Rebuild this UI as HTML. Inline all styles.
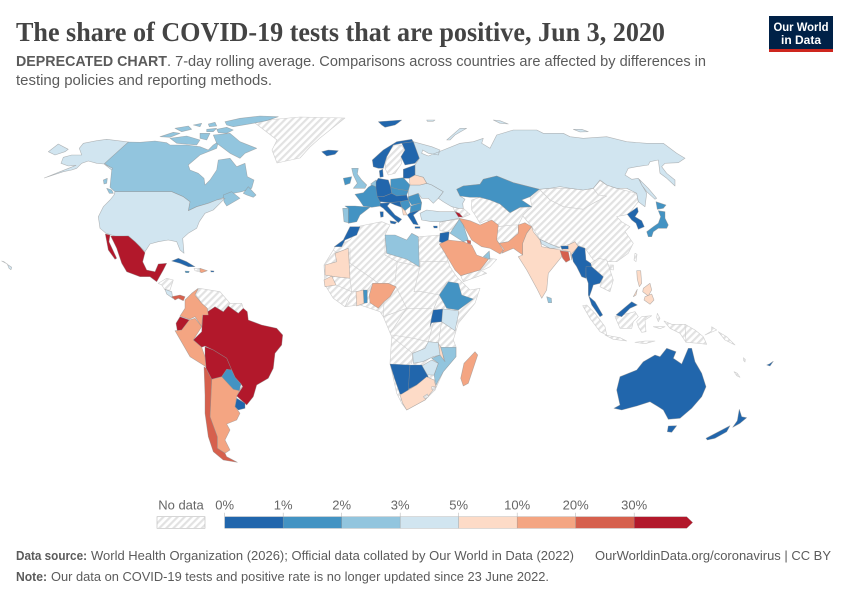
<!DOCTYPE html>
<html lang="en">
<head>
<meta charset="utf-8">
<title>The share of COVID-19 tests that are positive, Jun 3, 2020</title>
<style>
html,body{margin:0;padding:0;background:#fff;width:850px;height:600px;overflow:hidden}
svg{display:block}
text{font-family:"Liberation Sans",sans-serif}
.sub{font-size:14.5px;fill:#5b5b5b}
.foot{font-size:13px;fill:#5b5b5b}
.lg{font-size:13px;fill:#666}
</style>
</head>
<body>
<svg id="chart" xmlns="http://www.w3.org/2000/svg" width="850" height="600" viewBox="0 0 850 600">
  <defs>
    <pattern id="hatch" patternUnits="userSpaceOnUse" width="5" height="5" patternTransform="rotate(45)">
      <rect width="5" height="5" fill="#fff"/>
      <rect width="2.2" height="5" fill="#e2e2e2"/>
    </pattern>
  </defs>
  <text x="16" y="41" font-size="27" font-weight="700" fill="#444" textLength="649" lengthAdjust="spacingAndGlyphs" style="font-family:'Liberation Serif',serif">The share of COVID-19 tests that are positive, Jun 3, 2020</text>
  <text class="sub" x="16" y="66" font-weight="700" textLength="151" lengthAdjust="spacingAndGlyphs">DEPRECATED CHART</text>
  <text class="sub" x="167" y="66" textLength="539" lengthAdjust="spacingAndGlyphs">. 7-day rolling average. Comparisons across countries are affected by differences in</text>
  <text class="sub" x="16" y="85" textLength="256" lengthAdjust="spacingAndGlyphs">testing policies and reporting methods.</text>
  <g>
    <rect x="769" y="16" width="64" height="36" fill="#002147"/>
    <rect x="769" y="49" width="64" height="3" fill="#ce261e"/>
    <text x="801" y="31" font-size="12" font-weight="700" fill="#fff" text-anchor="middle" textLength="55" lengthAdjust="spacingAndGlyphs">Our World</text>
    <text x="801" y="44" font-size="12" font-weight="700" fill="#fff" text-anchor="middle">in Data</text>
  </g>
  <g id="map" stroke-linejoin="round"></g>
  <g id="legend"></g>
  <text class="foot" x="16" y="560" font-weight="700" textLength="71" lengthAdjust="spacingAndGlyphs">Data source:</text>
  <text class="foot" x="91" y="560" textLength="483" lengthAdjust="spacingAndGlyphs">World Health Organization (2026); Official data collated by Our World in Data (2022)</text>
  <text class="foot" x="595" y="560" textLength="236" lengthAdjust="spacingAndGlyphs">OurWorldinData.org/coronavirus | CC BY</text>
  <text class="foot" x="16" y="581" font-weight="700" textLength="31" lengthAdjust="spacingAndGlyphs">Note:</text>
  <text class="foot" x="51" y="581" textLength="498" lengthAdjust="spacingAndGlyphs">Our data on COVID-19 tests and positive rate is no longer updated since 23 June 2022.</text>
</svg>
<script>
// ---- Data: share of tests positive (%), null = no data ----
const countries = ["Africa (no data)","Greenland","Sweden","Mongolia","China","Central Asia","Afghanistan","Syria","Yemen","Oman","Southeast Asia mainland","Indonesia","Papua New Guinea","Haiti","Central America","Venezuela","Guianas","Taiwan","Georgia and Azerbaijan","Pacific islands",
"Russia","Canada","United States","Mexico","Cuba","Jamaica","Dominican Republic","Puerto Rico","Costa Rica","Panama",
"Brazil","Bolivia","Paraguay","Uruguay","Ecuador","Colombia","Peru","Argentina","Chile",
"Iceland","Svalbard","Norway","Finland","Baltics","Ireland","United Kingdom","Benelux","France","Germany","Denmark","Poland","Czechia and Slovakia","Austria and Hungary","Italy","Spain","Portugal","Romania","Bulgaria","Serbia","Croatia","Albania","Greece","Ukraine","Belarus",
"Kazakhstan","Turkey","Armenia","Cyprus","Iran","Iraq","Jordan","Kuwait","Saudi Arabia","UAE","Pakistan","India","Nepal","Bhutan","Bangladesh","Myanmar","Thailand and Malaysia","Korea","Japan","Philippines","Malaysia Borneo","Sri Lanka",
"Morocco","Libya","Mauritania","Senegal","Ghana","Togo","Nigeria","Ethiopia","Uganda","Kenya","Malawi","Zambia","Mozambique","Zimbabwe","Namibia","Botswana","South Africa","Madagascar",
"Australia","New Zealand","Fiji"];
const positiveRates = [null,null,null,null,null,null,null,null,null,null,null,null,null,null,null,null,null,null,null,null,
3.6,2.4,4.3,46,0.6,1.5,14,0.7,3.2,24,
38,33,1.6,0.5,34,15,16,13,25,
0.2,0.1,0.5,0.6,0.6,1.4,2.6,2.3,1.7,0.9,0.7,1.5,1.2,0.8,0.9,1.6,2.7,1.8,1.3,1.6,0.9,6,0.5,3.5,7,
1.5,3.8,38,0.4,13,2.8,0.4,24,16,2.5,15,7.5,4,0.6,23,0.3,0.4,0.5,1.8,6.5,0.7,2.6,
0.8,2.5,6.5,7,6.5,1.2,14,1.6,0.5,4,6,3.5,2.6,4,0.6,0.8,8,13,
0.4,0.1,0.6];
const binEdges = [0,1,2,3,5,10,20,30];
const binColors = ["#2166ac","#4393c3","#92c5de","#d1e5f0","#fddbc7","#f4a582","#d6604d","#b2182b"];
const binLabels = ["0%","1%","2%","3%","5%","10%","20%","30%"];

// ---- Map geography: outlines traced in crop-local coordinates ----
const frames = {A:[0,100,3],B:[300,100,3],C:[550,120,3],D:[130,270,3],E:[310,240,3],G:[600,320,3],I:[570,285,3],P:[0,0,1]};
const outlines = {
"Africa (no data)":[["E","150,-42 215,-55 240,-45 225,-15 265,-10 300,5 330,-10 390,-15 400,20 420,80 440,110 480,150 510,145 495,190 445,250 430,300 438,320 438,350 400,395 375,450 345,480 290,510 275,490 260,460 240,370 245,290 220,230 210,215 150,195 105,200 70,175 45,135 42,75 70,30 75,20 120,0"]],
"Greenland":[["P","255,123 267,120 300,117 345,118 330,130 320,138 310,147 300,158 277,163 272,150 277,140"]],
"Sweden":[["B","255,205 260,170 280,135 303,135 315,150 303,170 305,190 285,220 265,225"]],
"Mongolia":[["C","-33,207 0,205 60,205 100,210 130,205 145,225 170,228 130,250 100,268 40,260 0,240"]],
"China":[["C","-84,285 -54,261 -60,231 -33,207 0,240 40,260 100,268 130,250 170,228 145,225 130,205 150,182 170,195 200,205 260,220 265,245 235,283 200,290 215,305 240,320 225,335 250,370 235,400 200,425 165,425 130,420 105,385 90,378 70,368 50,375 30,382 0,372 -30,358 -54,321"],["C","180,435 190,435 190,450 180,448"]],
"Central Asia":[["B","515,300 540,292 570,300 600,312 630,338 660,322 695,320 670,345 655,375 590,380 560,360 540,370 525,345 515,330"]],
"Afghanistan":[["B","590,380 640,375 655,375 655,400 625,425 598,430 590,420"]],
"Syria":[["B","418,368 440,362 478,358 460,385 440,395 420,392"]],
"Yemen":[["B","482,527 540,510 560,520 490,545"]],
"Oman":[["B","568,475 590,478 570,500 550,510 540,510 565,478"]],
"Southeast Asia mainland":[["C","122,430 145,415 170,420 190,480 180,515 150,500 160,470 125,440"]],
"Indonesia":[["I","38,62 50,60 75,85 105,125 110,150 90,140 60,100"],["I","105,150 150,158 170,168 130,163"],["I","135,95 195,80 205,95 190,110 185,130 150,130"],["I","200,110 215,95 245,92 225,105 228,140 215,142 205,125"],["I","262,85 270,100 265,110 260,98"],["I","195,172 225,168 255,168 225,176"],["I","250,125 285,125 270,131"],["I","282,108 305,118 345,118 348,172 330,145 300,130"]],
"Papua New Guinea":[["I","345,118 375,135 400,155 410,178 385,175 348,172"],["I","425,125 440,135 405,150 425,138"]],
"Haiti":[["A","582,505 600,505 600,516 585,512"]],
"Central America":[["D","85,40 110,25 130,30 120,60 105,60 95,45"]],
"Venezuela":[["D","195,70 208,55 270,65 300,100 280,125 255,110 235,135 232,115 215,100"]],
"Guianas":[["D","300,100 335,100 340,115 325,130 295,108"]],
"Taiwan":[["C","255,400 261,403 258,425 252,420"]],
"Georgia and Azerbaijan":[["B","458,320 490,325 510,343 490,352 478,340 465,335"]],
"Pacific islands":[["I","445,140 470,155 495,180 465,165"],["G","430,113 436,118 435,126 431,122"],["G","402,155 412,160 420,172 410,167"]],
"Russia":[["B","340,125 395,140 420,150 415,165 385,160 368,150 365,160 385,168 430,150 480,130 520,125 550,115 545,130 570,145 590,105 640,90 710,90 730,100 750,100 790,100 810,110 850,115 920,110 980,125 1040,130 1090,130 1130,160 1155,175 1135,188 1095,190 1085,200 1100,220 1125,240 1125,258 1100,235 1080,220 1075,180 1050,185 1045,195 1010,200 985,205 975,225 995,238 1015,235 1040,280 1035,320 1015,305 1010,280 980,265 950,265 920,255 900,240 880,265 850,270 810,265 780,260 750,265 718,268 640,248 590,228 550,238 540,253 490,258 470,268 480,288 495,298 488,310 490,325 475,325 455,320 430,305 415,295 430,275 395,255 380,250 370,232 345,225 345,195 358,175"],["B","440,120 480,85 500,85 465,105 450,120"],["B","580,60 600,62 625,72 600,70"],["B","380,60 405,60 400,64 382,64"],["C","70,28 95,28 115,35 90,36"],["C","268,178 295,205 320,235 315,238 290,215 275,195"]],
"Canada":[["A","385,126 420,127 465,123 500,128 510,135 560,135 600,140 625,150 640,135 655,125 650,145 600,165 565,195 570,210 595,220 612,235 615,255 630,240 650,210 655,180 690,175 710,200 735,190 742,230 762,240 755,265 725,275 700,280 665,295 650,300 625,310 590,320 565,332 570,305 550,290 515,275 345,275 330,262 335,210 335,205 312,190"],["A","675,65 720,55 780,48 835,50 800,62 760,70 700,80 680,75"],["A","640,105 690,100 720,125 770,145 735,160 720,175 690,160 650,130"],["A","510,115 560,108 600,120 590,135 530,130"],["A","480,110 520,97 540,100 510,112"],["A","525,85 565,78 575,88 545,95"],["A","580,75 605,70 600,80"],["A","625,72 645,67 650,78 628,80"],["A","650,88 680,82 700,90 680,100 655,98"],["A","620,88 650,85 640,95 620,95"],["A","600,100 630,100 620,120 600,115"],["A","730,280 745,260 768,285 760,292 740,285"],["A","670,285 695,275 720,295 680,318 672,305"],["A","310,240 322,235 320,250 312,252"],["A","320,265 335,270 340,280 328,280"]],
"United States":[["A","345,275 515,275 550,290 570,305 565,332 590,320 625,310 650,300 675,295 660,310 640,330 615,340 598,365 590,385 565,400 548,415 552,460 540,450 530,425 505,420 475,425 450,432 435,455 420,440 405,425 385,408 350,410 318,400 300,385 295,350 310,320 330,300 342,285"],["A","385,126 320,118 290,122 250,130 238,145 245,165 215,165 190,172 183,190 205,198 228,196 180,215 133,234 190,215 215,210 230,205 245,190 265,183 290,190 312,192 338,205 335,210 312,192"],["A","145,155 175,132 190,140 205,148 195,155 165,165"],["A","5,483 12,485 25,495 35,502 33,509 27,505 22,492"]],
"Mexico":[["A","316,402 330,405 327,425 350,475 345,478 325,450"],["A","332,408 385,408 405,425 420,440 435,458 428,485 440,510 465,515 475,492 500,490 490,510 470,545 450,530 420,530 380,515 365,490 350,445"]],
"Cuba":[["A","515,483 535,475 560,485 585,500 565,500 540,490"]],
"Jamaica":[["A","555,513 568,514 566,518 557,518"]],
"Dominican Republic":[["A","600,505 622,512 605,518 600,516"]],
"Puerto Rico":[["A","632,512 642,513 641,516 633,516"]],
"Costa Rica":[["D","105,58 125,65 128,85 110,72"]],
"Panama":[["D","125,80 150,75 165,80 160,92 145,85 135,90"]],
"Brazil":[["D","218,135 255,110 280,125 295,108 325,130 340,115 352,125 355,150 395,165 440,175 458,195 455,225 435,250 430,295 415,325 380,345 370,380 350,405 320,378 338,350 333,342 315,322 305,300 290,265 250,240 225,228 215,232 190,210 215,185"]],
"Bolivia":[["D","225,230 250,240 290,265 305,300 290,298 275,320 245,328 228,295 225,260"]],
"Paraguay":[["D","275,320 290,298 305,300 315,322 333,342 328,362 310,358"]],
"Uruguay":[["D","320,385 345,400 345,415 325,420 315,410"]],
"Ecuador":[["D","150,140 178,150 155,180 142,182 138,160"]],
"Colombia":[["D","205,55 195,75 215,100 232,115 235,135 218,135 215,170 195,140 178,148 150,138 165,115 165,90 185,70"]],
"Peru":[["D","135,182 155,180 178,150 195,145 215,170 190,210 215,232 225,260 228,290 180,260"]],
"Argentina":[["D","245,328 275,320 310,358 328,362 335,350 320,378 315,410 330,430 320,450 290,462 300,480 285,510 300,540 285,550 262,535 262,500 240,440"]],
"Chile":[["D","222,290 228,295 245,328 240,440 262,500 262,535 285,550 290,560 322,577 280,570 250,545 235,500 225,430 225,375"]],
"Iceland":[["B","65,155 85,150 115,152 105,163 80,168"]],
"Svalbard":[["B","235,65 305,60 295,68 285,75 255,82 245,75"]],
"Norway":[["B","217,180 250,150 290,125 335,118 340,125 305,130 280,135 260,170 250,205 235,205 220,200"]],
"Finland":[["B","340,125 358,175 345,190 315,195 303,170 315,150 305,130"]],
"Baltics":[["B","310,208 345,195 345,225 328,235 310,235"]],
"Ireland":[["B","130,235 155,230 150,250 135,255"]],
"United Kingdom":[["B","155,205 175,205 172,222 185,240 200,255 195,265 160,265 172,250 160,225"]],
"Benelux":[["B","212,252 228,240 235,248 230,262 215,255"]],
"France":[["B","165,283 190,278 205,262 215,255 232,262 250,270 240,295 242,318 215,322 190,318 178,300"]],
"Germany":[["B","228,245 235,235 265,240 272,262 275,280 250,290 232,290 228,265"]],
"Denmark":[["B","238,212 248,208 250,230 240,232"]],
"Poland":[["B","272,238 310,233 330,255 325,272 295,268 272,262"]],
"Czechia and Slovakia":[["B","272,262 295,268 325,272 320,285 290,288 275,280"]],
"Austria and Hungary":[["B","232,290 250,290 275,280 290,288 320,285 325,300 300,305 270,308 240,305"]],
"Italy":[["B","240,310 270,308 262,318 285,345 305,358 295,368 270,345 250,325 240,318"],["B","240,335 250,335 250,350 242,352"],["B","270,362 290,366 285,372 272,370"]],
"Spain":[["B","135,318 165,318 210,322 180,345 170,365 145,370 145,325"]],
"Portugal":[["B","128,325 145,325 145,368 132,365"]],
"Romania":[["B","325,290 355,280 365,308 335,315 325,300"]],
"Bulgaria":[["B","332,318 365,308 362,330 330,338"]],
"Serbia":[["B","300,305 325,300 332,318 315,332 305,322"]],
"Croatia":[["B","270,308 300,305 305,322 285,315"]],
"Albania":[["B","305,322 315,332 322,345 310,345"]],
"Greece":[["B","322,345 330,338 360,330 340,345 355,375 340,372"],["B","345,380 360,380 360,385 345,385"]],
"Ukraine":[["B","330,255 360,255 380,250 395,255 430,275 415,295 400,310 385,295 365,295 355,280 325,290 325,272"]],
"Belarus":[["B","328,235 345,225 370,232 380,250 360,255 330,255"]],
"Kazakhstan":[["B","470,268 490,258 540,253 550,238 590,228 640,248 718,268 690,290 665,300 695,320 660,322 630,338 600,312 570,300 540,292 510,292 480,288"]],
"Turkey":[["B","360,340 380,330 420,335 470,335 478,355 440,362 420,365 395,365 365,360"]],
"Armenia":[["B","465,335 478,340 488,352 475,350"]],
"Cyprus":[["B","400,378 412,378 412,384 402,384"]],
"Iran":[["B","478,355 510,362 540,375 575,360 595,375 590,420 610,450 600,462 570,445 545,440 515,420 490,375"]],
"Iraq":[["B","460,385 478,358 490,375 505,420 490,425 450,400"]],
"Jordan":[["B","420,400 448,395 445,420 430,430 418,425"]],
"Kuwait":[["B","500,420 512,422 512,432 503,430"]],
"Saudi Arabia":[["B","418,432 445,420 490,425 515,435 530,465 565,478 540,510 482,527 465,510 435,460"]],
"UAE":[["B","550,470 568,453 570,478"]],
"Pakistan":[["B","655,375 675,368 695,380 680,400 668,430 668,465 640,445 605,460 612,448 598,430 625,425 655,400"]],
"India":[["B","695,380 680,400 668,430 668,465 655,470 680,510 710,565 725,595 740,570 745,520 785,470 783,450 725,440 720,420 700,395"],["C","55,375 75,365 85,380 65,400 65,420 60,395 35,390"]],
"Nepal":[["C","-30,358 0,372 30,384 0,385 -25,372"]],
"Bhutan":[["C","32,378 55,378 55,387 35,387"]],
"Bangladesh":[["C","30,392 55,395 60,420 48,427 38,415"]],
"Myanmar":[["C","85,378 105,385 108,420 122,430 125,440 108,445 108,475 95,470 80,440 70,425 65,405"]],
"Thailand and Malaysia":[["C","108,440 125,440 160,470 150,490 130,495 125,510 118,530 135,545 158,585 150,590 125,555 115,525 115,490 108,470"]],
"Korea":[["C","232,283 262,262 265,275 255,290 275,302 283,320 265,328 258,310 245,300"]],
"Japan":[["C","325,272 345,275 345,295 355,315 350,325 325,325 310,335 305,350 295,350 290,335 310,320 325,310 332,290"],["C","318,245 348,255 340,265 322,268"]],
"Philippines":[["C","260,452 272,452 275,490 268,500 262,478"],["C","280,505 300,490 305,510 295,528 278,515"],["C","285,530 305,522 312,540 300,553 282,540"],["C","250,530 262,508 258,525"]],
"Malaysia Borneo":[["C","198,585 245,545 262,555 240,565 215,590"]],
"Sri Lanka":[["C","-10,530 4,535 5,548 -5,548"]],
"Morocco":[["B","103,440 130,420 150,380 180,380 170,405 135,420 125,440"]],
"Libya":[["B","255,405 285,405 320,420 335,400 355,410 358,500 320,478 260,460"]],
"Mauritania":[["E","45,75 80,65 75,40 115,25 120,115 75,110 45,105"]],
"Senegal":[["E","42,120 65,108 78,135 45,140"]],
"Ghana":[["E","138,155 160,150 162,190 140,198"]],
"Togo":[["E","160,150 172,150 172,188 162,190"]],
"Nigeria":[["E","178,165 188,130 235,130 258,140 240,170 222,185 205,205 180,188"]],
"Ethiopia":[["E","388,165 415,125 445,130 455,165 490,177 445,210 410,205"]],
"Uganda":[["E","370,210 400,207 395,245 365,248 360,260 365,230"]],
"Kenya":[["E","398,207 445,212 445,225 435,272 395,245"]],
"Malawi":[["E","385,310 395,325 403,365 390,355"]],
"Zambia":[["E","308,340 345,325 355,305 385,308 390,345 370,350 338,365 310,370"]],
"Mozambique":[["E","392,322 438,322 438,350 400,395 378,435 372,405 385,370 365,355 390,345 405,365"]],
"Zimbabwe":[["E","335,378 365,360 385,370 372,405 345,405"]],
"Namibia":[["E","240,372 300,375 295,465 270,462 255,420"]],
"Botswana":[["E","300,375 335,375 355,410 320,435 295,448"]],
"South Africa":[["E","270,465 295,450 320,435 350,410 372,420 378,440 345,480 290,510 278,490"]],
"Madagascar":[["E","495,335 503,345 475,430 460,438 452,415 462,370"]],
"Australia":[["G","42,265 60,255 50,210 60,170 110,150 130,125 165,105 180,110 200,85 228,95 220,115 245,132 265,85 275,85 285,125 305,160 318,200 305,230 275,265 240,295 205,298 190,270 175,260 150,245 110,258 65,270"],["G","205,318 230,317 215,337 202,335"]],
"New Zealand":[["G","418,268 425,290 440,293 420,310 398,322 412,302"],["G","318,355 390,317 380,335 345,355 322,360"]],
"Fiji":[["G","500,135 508,132 520,124 510,138"]]
};
// Interior borders of the no-data part of Africa and a lakes overlay
const africaBorders = ["120,25 120,70 185,115 205,130","225,0 225,45 262,65 255,125","262,65 330,80 330,65 410,65","330,80 312,155 335,155 388,165","410,125 388,165 370,210","258,140 290,205 365,205","290,205 240,280","245,285 310,295 355,305","395,245 385,310","370,250 355,305","245,290 308,340 305,372","120,115 125,155 78,135","125,155 105,200","140,155 125,155","188,130 172,150","222,185 220,230 290,205","70,30 120,70"];
const lakes = [["E","340,470 352,462 355,470 345,476"],["E","365,440 375,440 375,450 366,449"]];

// ---- Scales ----
function binIndex(v){let i=0;for(let k=0;k<binEdges.length;k++){if(v>=binEdges[k])i=k;}return i;}
function colorFor(v){return binColors[binIndex(v)];}
function toPage(frame,str){const f=frames[frame];return str.trim().split(/\s+/).map(p=>{const c=p.split(',');return (f[0]+c[0]/f[2]).toFixed(1)+','+(f[1]+c[1]/f[2]).toFixed(1);}).join(' L');}
function slug(s){return s.toLowerCase().replace(/[^a-z0-9]+/g,'-');}
const NS='http://www.w3.org/2000/svg';
const mapG=document.getElementById('map');
countries.forEach((name,i)=>{
  const rate=positiveRates[i];
  const g=document.createElementNS(NS,'g');
  
  
  g.setAttribute('fill',rate===null?'url(#hatch)':colorFor(rate));
  g.setAttribute('stroke',rate===null?'#cfcfcf':'#8c8c8c');
  g.setAttribute('stroke-opacity',rate===null?'1':'.6');
  g.setAttribute('stroke-width','.6');
  (outlines[name]||[]).forEach(r=>{
    const p=document.createElementNS(NS,'path');
    p.setAttribute('d','M'+toPage(r[0],r[1])+'Z');
    g.appendChild(p);
  });
  mapG.appendChild(g);
  if(i===0){
    africaBorders.forEach(b=>{
      const l=document.createElementNS(NS,'path');
      
      
      l.setAttribute('d','M'+toPage('E',b));
      l.setAttribute('fill','none');
      l.setAttribute('stroke','#cfcfcf');
      l.setAttribute('stroke-width','.6');
      mapG.appendChild(l);
    });
  }
});
lakes.forEach(r=>{
  const p=document.createElementNS(NS,'path');
  
  
  p.setAttribute('d','M'+toPage(r[0],r[1])+'Z');
  p.setAttribute('fill','url(#hatch)');
  p.setAttribute('stroke','#bbb');
  p.setAttribute('stroke-width','.6');
  mapG.appendChild(p);
});

// ---- Legend ----
const lg=document.getElementById('legend');
const legendLeft=224.7, binWidth=58.5, barTop=516.7, barHeight=11.6;
function binX(i){return legendLeft+i*binWidth;}
const nd=document.createElementNS(NS,'rect');


nd.setAttribute('x',157);nd.setAttribute('y',barTop);nd.setAttribute('width',48);nd.setAttribute('height',barHeight);
nd.setAttribute('fill','url(#hatch)');nd.setAttribute('stroke','#bbb');nd.setAttribute('stroke-width','.6');
lg.appendChild(nd);
const ndt=document.createElementNS(NS,'text');


ndt.setAttribute('class','lg');ndt.setAttribute('x',181);ndt.setAttribute('y',509.5);ndt.setAttribute('text-anchor','middle');
ndt.textContent='No data';
lg.appendChild(ndt);
binColors.forEach((c,i)=>{
  const x=binX(i), last=i===binColors.length-1;
  const s=document.createElementNS(NS,'polygon');
  
  
  const r=x+binWidth;
  s.setAttribute('points',last?`${x},${barTop} ${r-6},${barTop} ${r},${barTop+barHeight/2} ${r-6},${barTop+barHeight} ${x},${barTop+barHeight}`:`${x},${barTop} ${r},${barTop} ${r},${barTop+barHeight} ${x},${barTop+barHeight}`);
  s.setAttribute('fill',c);s.setAttribute('stroke','#8c8c8c');s.setAttribute('stroke-opacity','.6');s.setAttribute('stroke-width','.5');
  lg.appendChild(s);
  const t=document.createElementNS(NS,'line');
  
  
  t.setAttribute('x1',x);t.setAttribute('x2',x);t.setAttribute('y1',barTop-4);t.setAttribute('y2',barTop);
  t.setAttribute('stroke','#bbb');t.setAttribute('stroke-width','.6');
  lg.appendChild(t);
  const l=document.createElementNS(NS,'text');
  
  
  l.setAttribute('class','lg');l.setAttribute('x',x);l.setAttribute('y',509.5);l.setAttribute('text-anchor','middle');
  l.textContent=binLabels[i];
  lg.appendChild(l);
});
</script>
</body>
</html>
